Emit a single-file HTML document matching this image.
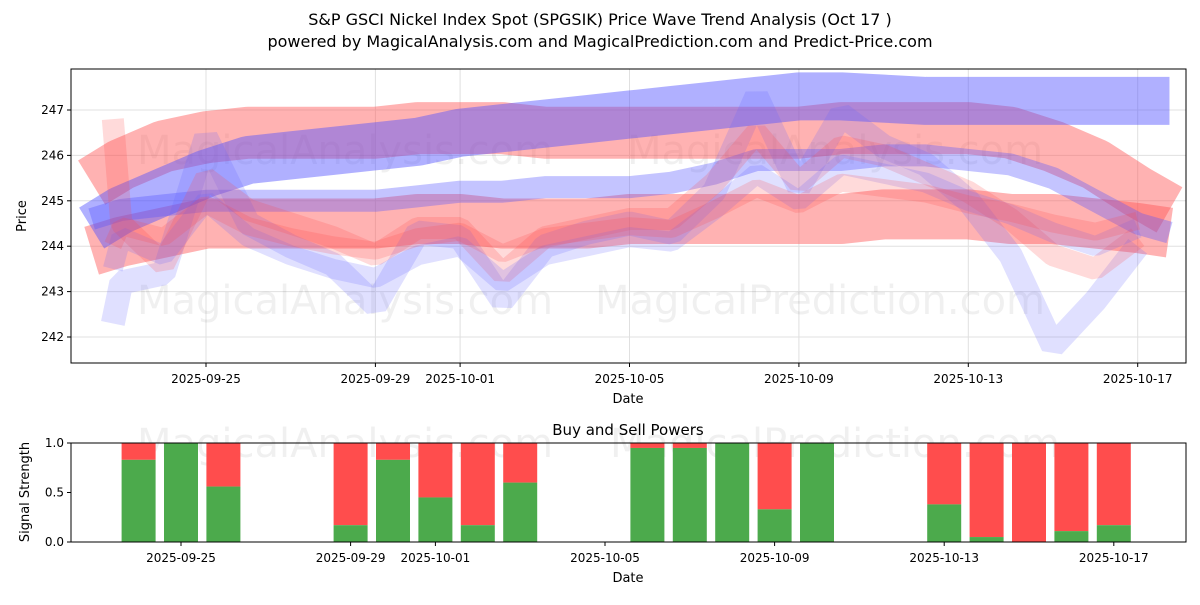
<!DOCTYPE html>
<html><head><meta charset="utf-8"><style>
body{margin:0;background:#fff;font-family:"Liberation Sans","DejaVu Sans",sans-serif}
svg text{font-family:"DejaVu Sans","Liberation Sans",sans-serif}
</style></head><body>
<svg id="c" width="1200" height="600" xmlns="http://www.w3.org/2000/svg">
<rect width="1200" height="600" fill="#fff"/>
<text x="600" y="25" text-anchor="middle" font-size="16">S&amp;P GSCI Nickel Index Spot (SPGSIK) Price Wave Trend Analysis (Oct 17 )</text>
<text x="600" y="47" text-anchor="middle" font-size="16">powered by MagicalAnalysis.com and MagicalPrediction.com and Predict-Price.com</text>
<defs><clipPath id="cp"><rect x="71" y="69" width="1115" height="294"/></clipPath></defs>
<g id="topg"></g>
<g id="botg"></g>
</svg>
<script>
const dateLabels=["2025-09-25","2025-09-29","2025-10-01","2025-10-05","2025-10-09","2025-10-13","2025-10-17"];
const tickDays=[3,7,9,13,17,21,25];
const priceTicks=[242,243,244,245,246,247];
const bandDays=[0.3,1,2,3,4,5,6,7,8,9,10,11,12,13,14,15,16,17,18,19,20,21,22,23,24,25,25.75];
const blueUpper=[244.4,244.8,245.2,245.6,245.9,246.0,246.1,246.2,246.3,246.5,246.6,246.7,246.8,246.9,247.0,247.1,247.2,247.3,247.3,247.25,247.2,247.2,247.2,247.2,247.2,247.2,247.2];
const redUpper=[245.4,245.8,246.2,246.4,246.5,246.5,246.5,246.5,246.6,246.6,246.6,246.5,246.5,246.5,246.5,246.5,246.5,246.5,246.6,246.6,246.6,246.6,246.5,246.2,245.8,245.2,244.8];
const redMid=[243.9,244.1,244.3,244.5,244.5,244.5,244.5,244.5,244.6,244.6,244.5,244.5,244.5,244.6,244.6,244.6,244.6,244.6,244.6,244.7,244.7,244.7,244.6,244.6,244.5,244.4,244.3];
const blueMid=[244.6,244.8,244.9,245.0,245.0,245.0,245.0,245.0,245.1,245.2,245.2,245.3,245.3,245.3,245.4,245.6,245.9,245.9,245.9,246.0,246.0,245.9,245.8,245.5,245.0,244.5,244.3];
const waveDays=[0.8,1,2,3,4,5,6,7,8,9,10,11,12,13,14,15,16,17,18,19,20,21,22,23,24,25];
const wave1=[242.3,243.2,243.4,246.4,244.5,244.0,243.6,242.7,244.3,244.2,242.8,244.0,244.3,244.5,244.3,245.2,247.3,245.3,246.9,246.2,245.8,245.0,243.8,241.8,242.8,244.0];
const wave2=[246.8,244.5,243.6,245.5,244.8,244.5,244.2,243.8,244.4,244.4,243.4,244.2,244.4,244.6,244.6,245.4,246.5,245.4,246.2,246.0,245.6,245.2,244.6,243.8,243.5,244.2];
const wave3=[243.5,244.2,243.8,245.0,244.2,243.8,243.5,243.3,243.8,244.0,243.2,243.8,244.0,244.2,244.1,244.8,245.6,245.0,245.8,245.6,245.4,245.0,244.7,244.3,244.0,244.4];
const buyDays=[2,3,4,7,8,9,10,11,14,15,16,17,18,21,22,23,24,25];
const buyVals=[0.83,1.0,0.56,0.17,0.83,0.45,0.17,0.6,0.95,0.95,1.0,0.33,1.0,0.38,0.05,0.0,0.11,0.17];
const NS='http://www.w3.org/2000/svg';
const X0=71,X1=1186;
const xs=d=>206+(d-3)*42.35;
const ys=p=>110+(247-p)*45.4;
const xb=d=>181+(d-3)*42.4;
const yb=v=>542-v*99;
function mk(t,a,p){const e=document.createElementNS(NS,t);for(const k in a)e.setAttribute(k,a[k]);p.appendChild(e);return e;}
const topG=document.getElementById('topg'),botG=document.getElementById('botg');
for(const d of tickDays){const g=mk('line',{x1:xs(d),x2:xs(d),y1:69,y2:363,stroke:'#e0e0e0'},topG);

}
for(const p of priceTicks){const g=mk('line',{x1:X0,x2:X1,y1:ys(p),y2:ys(p),stroke:'#e0e0e0'},topG);

}
[[345,150,'MagicalAnalysis.com'],[835,150,'MagicalAnalysis.com'],[345,300,'MagicalAnalysis.com'],[820,300,'MagicalPrediction.com']].forEach(w=>{const t=mk('text',{x:w[0],y:w[1]+14,'text-anchor':'middle','font-size':40,fill:'#000','fill-opacity':0.06},topG);t.textContent=w[2];

});
const clipG=mk('g',{'clip-path':'url(#cp)'},topG);
function band(days,vals,col,w,op,name){const pts=days.map((d,i)=>xs(d)+','+ys(vals[i])).join(' ');const e=mk('polyline',{points:pts,fill:'none',stroke:col,'stroke-width':w,'stroke-opacity':op,'stroke-linejoin':'bevel'},clipG);

}
band(bandDays,redUpper,'#ff5555',52,0.45,'red-upper-band');
band(bandDays,redMid,'#ff5555',50,0.45,'red-middle-band');
band(bandDays,blueMid,'#5555ff',22,0.35,'blue-middle-band');
band(bandDays,blueUpper,'#5050ff',48,0.45,'blue-upper-band');
band(waveDays,wave1,'#6666ff',24,0.2,'blue-wave-1');
band(waveDays,wave2,'#ff4444',22,0.2,'red-wave-1');
band(waveDays,wave3,'#6666ff',20,0.2,'blue-wave-2');
band(waveDays,wave3.map(v=>v*0.6+244.8*0.4),'#ff4444',18,0.2,'red-wave-2');
mk('rect',{x:X0,y:69,width:X1-X0,height:294,fill:'none',stroke:'#000'},topG);
tickDays.forEach((d,i)=>{mk('line',{x1:xs(d),x2:xs(d),y1:363,y2:367,stroke:'#000'},topG);const t=mk('text',{x:xs(d),y:383,'text-anchor':'middle','font-size':12},topG);t.textContent=dateLabels[i];

});
priceTicks.forEach(p=>{mk('line',{x1:X0-4,x2:X0,y1:ys(p),y2:ys(p),stroke:'#000'},topG);const t=mk('text',{x:X0-7,y:ys(p)+4,'text-anchor':'end','font-size':12},topG);t.textContent=p;

});
let tt=mk('text',{x:628,y:403,'text-anchor':'middle','font-size':13},topG);tt.textContent='Date';


tt=mk('text',{x:26,y:216,'text-anchor':'middle','font-size':13,transform:'rotate(-90 26 216)'},topG);tt.textContent='Price';


tt=mk('text',{x:628,y:435,'text-anchor':'middle','font-size':15},botG);tt.textContent='Buy and Sell Powers';


[[345,443,'MagicalAnalysis.com'],[835,443,'MagicalPrediction.com']].forEach(w=>{const m=mk('text',{x:w[0],y:w[1]+14,'text-anchor':'middle','font-size':40,fill:'#000','fill-opacity':0.06},botG);m.textContent=w[2];

});
buyDays.forEach((d,i)=>{const v=buyVals[i];
const r=mk('rect',{x:xb(d)-17,y:yb(1),width:34,height:yb(v)-yb(1),fill:'#ff4d4d'},botG);


const g=mk('rect',{x:xb(d)-17,y:yb(v),width:34,height:yb(0)-yb(v),fill:'#4caa4c'},botG);

});
mk('rect',{x:X0,y:443,width:X1-X0,height:99,fill:'none',stroke:'#000'},botG);
tickDays.forEach((d,i)=>{mk('line',{x1:xb(d),x2:xb(d),y1:542,y2:546,stroke:'#000'},botG);const l=mk('text',{x:xb(d),y:562,'text-anchor':'middle','font-size':12},botG);l.textContent=dateLabels[i];

});
[0,0.5,1].forEach(v=>{mk('line',{x1:X0-4,x2:X0,y1:yb(v),y2:yb(v),stroke:'#000'},botG);const l=mk('text',{x:X0-7,y:yb(v)+4,'text-anchor':'end','font-size':12},botG);l.textContent=v==0?'0.0':v==1?'1.0':'0.5';

});
tt=mk('text',{x:628,y:582,'text-anchor':'middle','font-size':13},botG);tt.textContent='Date';


tt=mk('text',{x:29,y:492,'text-anchor':'middle','font-size':13,transform:'rotate(-90 29 492)'},botG);tt.textContent='Signal Strength';


</script>
</body></html>
